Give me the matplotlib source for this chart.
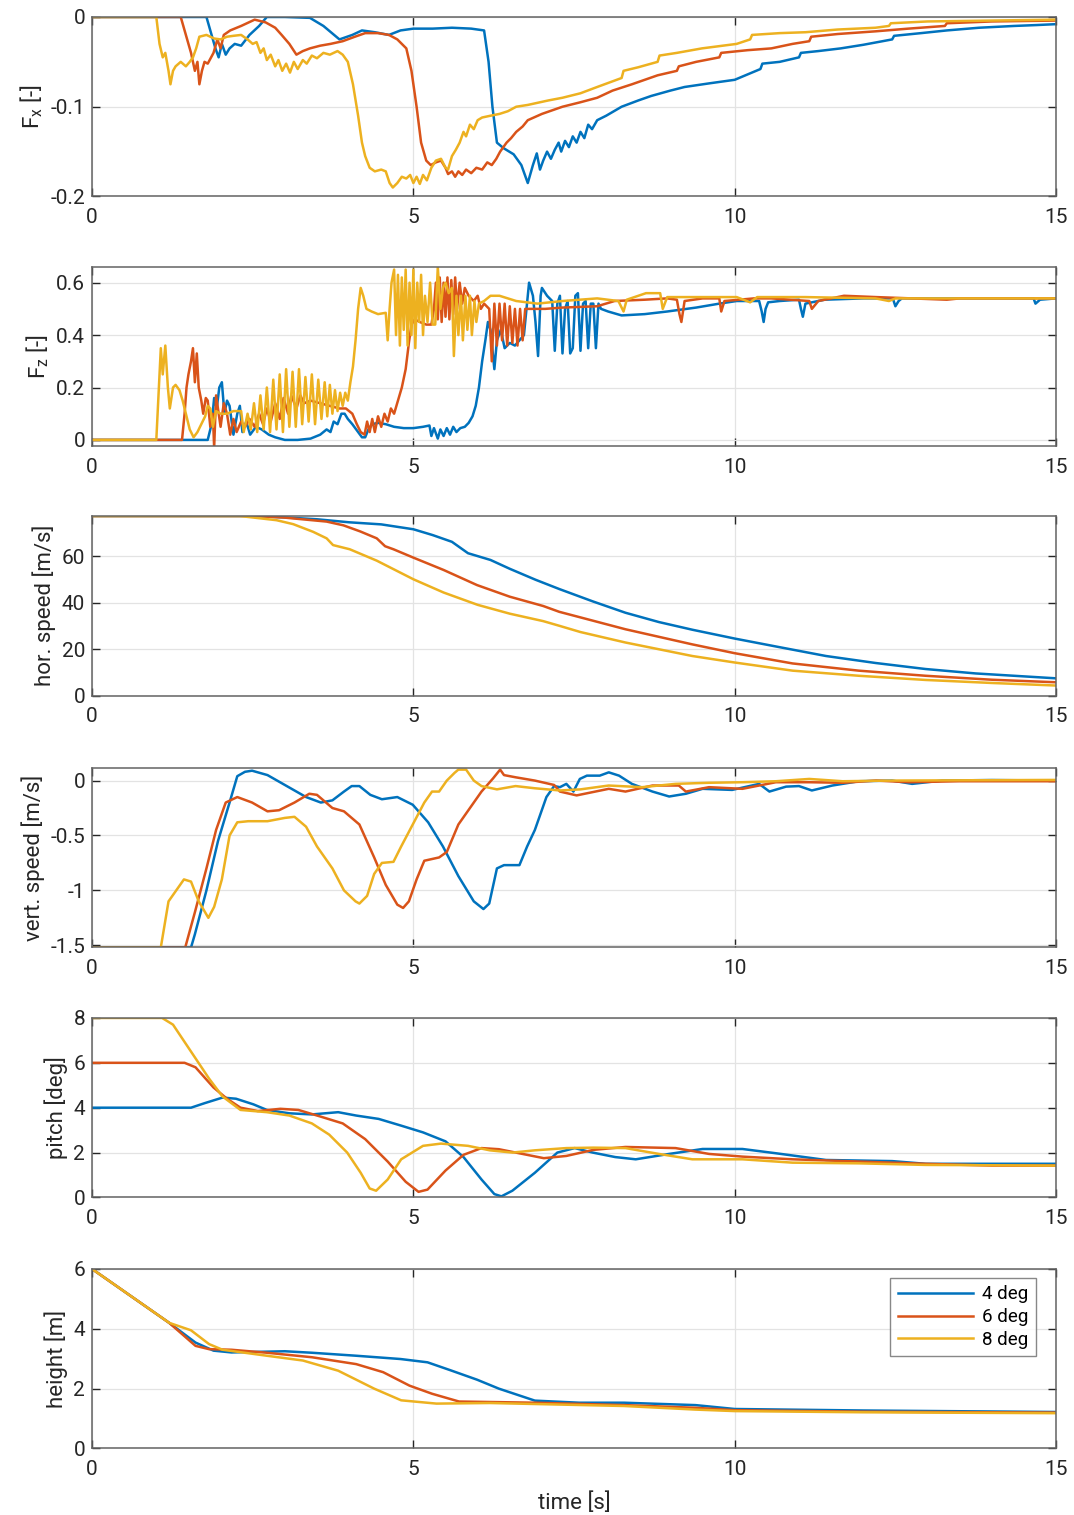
import numpy as np
import matplotlib
matplotlib.use("Agg")
import matplotlib.pyplot as plt

plt.rcParams['font.family'] = ['Roboto', 'DejaVu Sans']
plt.rcParams['mathtext.fontset'] = 'custom'
plt.rcParams['mathtext.rm'] = 'Roboto'
plt.rcParams['axes.unicode_minus'] = False

# series names and colours (MATLAB default order)
labels = ['4 deg', '6 deg', '8 deg']
colors = ['#0072BD', '#D95319', '#EDB120']

x_ticks = [0, 5, 10, 15]
x_ticklabels = ['0', '5', '10', '15']

# ---- panel 1: Fx [-]  (time, value)
fx_4deg = [(0, 0), (1.78, 0), (1.86, -0.02), (1.92, -0.035), (1.97, -0.045), (2.02, -0.03), (2.08, -0.042),
           (2.14, -0.035), (2.22, -0.03), (2.32, -0.032), (2.45, -0.02), (2.6, -0.01), (2.72, 0), (3.0, 0),
           (3.39, -0.001), (3.6, -0.01), (3.85, -0.025), (4.05, -0.02), (4.2, -0.015), (4.4, -0.017),
           (4.62, -0.02), (4.8, -0.015), (5.0, -0.013), (5.3, -0.013), (5.6, -0.012), (5.9, -0.013),
           (6.1, -0.015), (6.17, -0.05), (6.23, -0.1), (6.3, -0.14), (6.4, -0.146), (6.56, -0.153),
           (6.68, -0.165), (6.78, -0.185), (6.86, -0.165), (6.92, -0.152), (6.97, -0.17), (7.02, -0.16),
           (7.08, -0.15), (7.14, -0.158), (7.2, -0.148), (7.26, -0.14), (7.3, -0.15), (7.36, -0.138),
           (7.42, -0.145), (7.48, -0.133), (7.54, -0.14), (7.6, -0.128), (7.66, -0.135), (7.72, -0.12),
           (7.78, -0.125), (7.86, -0.115), (8.0, -0.11), (8.24, -0.1), (8.5, -0.093), (8.7, -0.088),
           (9.0, -0.082), (9.22, -0.078), (9.6, -0.074), (10.0, -0.07), (10.4, -0.058), (10.43, -0.052),
           (10.7, -0.05), (11.0, -0.045), (11.03, -0.04), (11.3, -0.038), (11.65, -0.035), (12.0, -0.031),
           (12.45, -0.025), (12.48, -0.021), (12.9, -0.018), (13.3, -0.015), (13.8, -0.012), (14.35, -0.01),
           (14.7, -0.009), (15.0, -0.008)]
fx_6deg = [(0, 0), (1.38, 0), (1.46, -0.02), (1.54, -0.04), (1.6, -0.06), (1.64, -0.05), (1.67, -0.075),
           (1.71, -0.06), (1.75, -0.05), (1.8, -0.052), (1.89, -0.04), (1.95, -0.025), (2.0, -0.035),
           (2.05, -0.02), (2.15, -0.015), (2.32, -0.01), (2.53, -0.003), (2.7, -0.006), (2.85, -0.012),
           (2.95, -0.02), (3.07, -0.03), (3.18, -0.042), (3.28, -0.038), (3.39, -0.035), (3.55, -0.032),
           (3.71, -0.03), (3.9, -0.027), (4.09, -0.022), (4.25, -0.018), (4.45, -0.018), (4.62, -0.02),
           (4.75, -0.025), (4.89, -0.035), (4.97, -0.06), (5.05, -0.1), (5.12, -0.14), (5.2, -0.16),
           (5.27, -0.165), (5.35, -0.162), (5.43, -0.16), (5.5, -0.168), (5.54, -0.175), (5.6, -0.172),
           (5.65, -0.178), (5.7, -0.172), (5.76, -0.176), (5.82, -0.17), (5.9, -0.174), (5.98, -0.168),
           (6.07, -0.17), (6.15, -0.162), (6.22, -0.165), (6.29, -0.158), (6.35, -0.15), (6.45, -0.14),
           (6.52, -0.135), (6.6, -0.128), (6.7, -0.122), (6.78, -0.115), (7.0, -0.108), (7.32, -0.1),
           (7.6, -0.095), (7.86, -0.09), (8.1, -0.082), (8.4, -0.075), (8.8, -0.065), (9.1, -0.06),
           (9.13, -0.055), (9.4, -0.05), (9.76, -0.045), (9.79, -0.04), (10.2, -0.037), (10.57, -0.035),
           (10.9, -0.03), (11.16, -0.027), (11.19, -0.022), (11.6, -0.019), (12.19, -0.016), (12.7, -0.013),
           (13.27, -0.01), (13.3, -0.007), (14.0, -0.005), (15.0, -0.004)]
fx_8deg = [(0, 0), (1.0, 0), (1.05, -0.03), (1.1, -0.045), (1.14, -0.04), (1.19, -0.06), (1.22, -0.075),
           (1.26, -0.06), (1.3, -0.055), (1.38, -0.05), (1.46, -0.055), (1.52, -0.05), (1.57, -0.045),
           (1.62, -0.035), (1.67, -0.022), (1.78, -0.02), (1.9, -0.024), (2.0, -0.025), (2.1, -0.022),
           (2.2, -0.021), (2.32, -0.02), (2.42, -0.025), (2.5, -0.03), (2.56, -0.028), (2.62, -0.04),
           (2.67, -0.035), (2.72, -0.048), (2.78, -0.042), (2.85, -0.055), (2.9, -0.048), (2.96, -0.06),
           (3.02, -0.052), (3.08, -0.062), (3.14, -0.05), (3.2, -0.058), (3.28, -0.048), (3.34, -0.052),
           (3.42, -0.043), (3.5, -0.046), (3.6, -0.04), (3.7, -0.042), (3.82, -0.038), (3.9, -0.042),
           (3.98, -0.05), (4.06, -0.075), (4.14, -0.11), (4.2, -0.14), (4.25, -0.155), (4.32, -0.168),
           (4.4, -0.172), (4.5, -0.17), (4.57, -0.172), (4.63, -0.185), (4.68, -0.19), (4.75, -0.185),
           (4.82, -0.178), (4.89, -0.18), (4.95, -0.176), (5.0, -0.185), (5.05, -0.178), (5.1, -0.186),
           (5.15, -0.176), (5.21, -0.182), (5.28, -0.168), (5.35, -0.16), (5.43, -0.158), (5.5, -0.168),
           (5.54, -0.17), (5.6, -0.155), (5.66, -0.148), (5.72, -0.14), (5.78, -0.128), (5.82, -0.133),
           (5.88, -0.12), (5.94, -0.125), (6.0, -0.115), (6.07, -0.112), (6.2, -0.11), (6.34, -0.108),
           (6.47, -0.105), (6.6, -0.1), (6.78, -0.098), (7.1, -0.093), (7.32, -0.09), (7.6, -0.085),
           (7.86, -0.078), (8.24, -0.068), (8.27, -0.06), (8.5, -0.056), (8.8, -0.05), (8.83, -0.043),
           (9.1, -0.04), (9.49, -0.035), (10.03, -0.03), (10.24, -0.025), (10.27, -0.02), (10.7, -0.018),
           (11.1, -0.017), (11.6, -0.014), (12.19, -0.012), (12.4, -0.01), (12.43, -0.007), (13.0, -0.005),
           (14.0, -0.004), (15.0, -0.003)]

# ---- panel 2: Fz [-]
fz_4deg = [(0, 0), (1.8, 0), (1.86, 0.06), (1.9, 0.16), (1.94, 0.12), (1.98, 0.2), (2.02, 0.22), (2.06, 0.1),
           (2.1, 0.15), (2.14, 0.13), (2.2, 0.02), (2.26, 0.1), (2.3, 0.13), (2.34, 0.03), (2.4, 0.07),
           (2.46, 0.02), (2.55, 0.05), (2.64, 0.04), (2.75, 0.02), (2.85, 0.01), (3.0, 0.0), (3.2, 0.0),
           (3.4, 0.005), (3.55, 0.02), (3.65, 0.04), (3.71, 0.03), (3.76, 0.07), (3.82, 0.06), (3.88, 0.1),
           (3.93, 0.1), (3.98, 0.08), (4.05, 0.06), (4.14, 0.03), (4.2, 0.01), (4.25, 0.01), (4.3, 0.04),
           (4.36, 0.06), (4.45, 0.065), (4.57, 0.06), (4.7, 0.05), (4.85, 0.045), (5.0, 0.045), (5.15, 0.05),
           (5.25, 0.055), (5.28, 0.015), (5.32, 0.045), (5.38, 0.005), (5.42, 0.04), (5.47, 0.015),
           (5.52, 0.045), (5.57, 0.02), (5.62, 0.05), (5.67, 0.03), (5.73, 0.045), (5.8, 0.05), (5.86, 0.065),
           (5.92, 0.09), (5.97, 0.13), (6.02, 0.2), (6.07, 0.3), (6.12, 0.38), (6.16, 0.45), (6.2, 0.42),
           (6.26, 0.27), (6.3, 0.38), (6.36, 0.42), (6.42, 0.35), (6.5, 0.37), (6.58, 0.36), (6.65, 0.38),
           (6.72, 0.4), (6.76, 0.5), (6.8, 0.6), (6.86, 0.55), (6.9, 0.45), (6.94, 0.32), (6.98, 0.55),
           (7.0, 0.58), (7.08, 0.55), (7.16, 0.53), (7.2, 0.34), (7.24, 0.52), (7.28, 0.55), (7.32, 0.33),
           (7.36, 0.5), (7.4, 0.53), (7.44, 0.33), (7.48, 0.35), (7.52, 0.55), (7.56, 0.56), (7.6, 0.34),
           (7.64, 0.52), (7.68, 0.53), (7.72, 0.35), (7.76, 0.52), (7.8, 0.52), (7.84, 0.35), (7.88, 0.52),
           (7.92, 0.5), (8.03, 0.49), (8.24, 0.475), (8.6, 0.48), (8.95, 0.49), (9.4, 0.505), (9.76, 0.52),
           (10.03, 0.53), (10.38, 0.53), (10.42, 0.49), (10.45, 0.45), (10.48, 0.5), (10.52, 0.525),
           (10.7, 0.53), (11.0, 0.535), (11.03, 0.5), (11.06, 0.47), (11.1, 0.52), (11.4, 0.535), (12.0, 0.54),
           (12.46, 0.54), (12.5, 0.51), (12.55, 0.53), (12.6, 0.54), (13.5, 0.54), (14.65, 0.54),
           (14.68, 0.52), (14.75, 0.535), (15.0, 0.54)]
fz_6deg = [(0, 0), (1.4, 0), (1.44, 0.1), (1.47, 0.2), (1.5, 0.25), (1.54, 0.3), (1.57, 0.35), (1.6, 0.22),
           (1.63, 0.33), (1.66, 0.2), (1.7, 0.15), (1.73, 0.1), (1.77, 0.16), (1.8, 0.15), (1.84, 0.05),
           (1.88, 0.1), (1.9, -0.03), (1.93, 0.17), (1.97, 0.1), (2.0, 0.05), (2.05, 0.14), (2.1, 0.1),
           (2.15, 0.02), (2.2, 0.08), (2.25, 0.03), (2.32, 0.07), (2.38, 0.05), (2.45, 0.08), (2.53, 0.05),
           (2.6, 0.1), (2.66, 0.06), (2.72, 0.12), (2.78, 0.07), (2.85, 0.14), (2.92, 0.08), (2.98, 0.16),
           (3.05, 0.1), (3.1, 0.17), (3.18, 0.12), (3.24, 0.17), (3.3, 0.14), (3.4, 0.15), (3.55, 0.14),
           (3.7, 0.13), (3.85, 0.12), (3.95, 0.12), (4.05, 0.1), (4.12, 0.06), (4.18, 0.03), (4.24, 0.02),
           (4.28, 0.07), (4.32, 0.03), (4.36, 0.08), (4.4, 0.03), (4.45, 0.09), (4.5, 0.05), (4.55, 0.1),
           (4.6, 0.07), (4.65, 0.12), (4.7, 0.1), (4.76, 0.15), (4.82, 0.2), (4.88, 0.27), (4.93, 0.37),
           (4.97, 0.44), (5.02, 0.46), (5.1, 0.45), (5.2, 0.44), (5.28, 0.44), (5.32, 0.5), (5.35, 0.6),
           (5.38, 0.46), (5.41, 0.62), (5.44, 0.45), (5.47, 0.6), (5.5, 0.47), (5.53, 0.62), (5.56, 0.46),
           (5.59, 0.61), (5.62, 0.48), (5.65, 0.62), (5.68, 0.5), (5.72, 0.6), (5.76, 0.52), (5.8, 0.58),
           (5.86, 0.55), (5.94, 0.53), (6.0, 0.55), (6.05, 0.5), (6.1, 0.52), (6.18, 0.5), (6.22, 0.3),
           (6.26, 0.52), (6.3, 0.36), (6.34, 0.52), (6.38, 0.38), (6.42, 0.52), (6.46, 0.36), (6.5, 0.51),
           (6.54, 0.37), (6.58, 0.5), (6.62, 0.36), (6.66, 0.5), (6.7, 0.38), (6.74, 0.5), (6.78, 0.5),
           (7.05, 0.5), (7.32, 0.505), (7.86, 0.51), (8.13, 0.53), (8.6, 0.535), (8.95, 0.54), (9.1, 0.535),
           (9.14, 0.48), (9.17, 0.45), (9.22, 0.53), (9.5, 0.54), (9.76, 0.54), (9.79, 0.49), (9.84, 0.53),
           (10.3, 0.54), (10.57, 0.54), (11.16, 0.53), (11.2, 0.5), (11.3, 0.53), (11.7, 0.55), (12.2, 0.545),
           (13.3, 0.535), (13.5, 0.54), (15.0, 0.54)]
fz_8deg = [(0, 0), (1.0, 0), (1.04, 0.2), (1.07, 0.35), (1.1, 0.25), (1.14, 0.36), (1.18, 0.2), (1.21, 0.12),
           (1.26, 0.2), (1.3, 0.21), (1.36, 0.19), (1.41, 0.15), (1.46, 0.1), (1.52, 0.04), (1.58, 0.01),
           (1.64, 0.03), (1.7, 0.06), (1.76, 0.09), (1.8, 0.13), (1.84, 0.12), (1.88, 0.05), (1.93, 0.11),
           (2.0, 0.1), (2.1, 0.1), (2.2, 0.11), (2.32, 0.11), (2.36, 0.03), (2.42, 0.1), (2.47, 0.04),
           (2.52, 0.14), (2.57, 0.03), (2.62, 0.17), (2.67, 0.04), (2.72, 0.2), (2.77, 0.03), (2.82, 0.23),
           (2.87, 0.04), (2.92, 0.25), (2.97, 0.03), (3.02, 0.27), (3.07, 0.05), (3.12, 0.26), (3.17, 0.05),
           (3.22, 0.27), (3.27, 0.06), (3.32, 0.24), (3.37, 0.07), (3.42, 0.25), (3.47, 0.06), (3.52, 0.23),
           (3.57, 0.08), (3.62, 0.22), (3.66, 0.09), (3.7, 0.21), (3.74, 0.1), (3.78, 0.19), (3.82, 0.11),
           (3.86, 0.18), (3.9, 0.13), (3.94, 0.18), (3.98, 0.15), (4.02, 0.22), (4.06, 0.28), (4.1, 0.38),
           (4.14, 0.5), (4.18, 0.58), (4.22, 0.55), (4.27, 0.5), (4.35, 0.49), (4.45, 0.48), (4.57, 0.485),
           (4.6, 0.38), (4.63, 0.5), (4.66, 0.6), (4.7, 0.65), (4.73, 0.4), (4.76, 0.63), (4.79, 0.36),
           (4.82, 0.62), (4.85, 0.42), (4.88, 0.65), (4.91, 0.36), (4.94, 0.6), (4.97, 0.4), (5.0, 0.65),
           (5.03, 0.35), (5.06, 0.6), (5.09, 0.45), (5.12, 0.63), (5.15, 0.4), (5.18, 0.55), (5.22, 0.45),
           (5.26, 0.6), (5.3, 0.44), (5.34, 0.44), (5.38, 0.66), (5.42, 0.5), (5.46, 0.58), (5.5, 0.6),
           (5.55, 0.56), (5.6, 0.58), (5.63, 0.32), (5.67, 0.55), (5.7, 0.4), (5.74, 0.55), (5.77, 0.38),
           (5.81, 0.55), (5.84, 0.42), (5.88, 0.55), (5.91, 0.4), (5.95, 0.53), (5.98, 0.45), (6.02, 0.52),
           (6.1, 0.53), (6.2, 0.55), (6.34, 0.55), (6.6, 0.53), (6.93, 0.52), (7.32, 0.53), (7.86, 0.54),
           (8.19, 0.53), (8.27, 0.49), (8.32, 0.535), (8.62, 0.56), (8.84, 0.56), (8.88, 0.5), (8.95, 0.545),
           (9.5, 0.545), (10.03, 0.545), (10.24, 0.525), (10.35, 0.545), (11.1, 0.545), (12.19, 0.54),
           (12.4, 0.53), (12.5, 0.54), (13.27, 0.54), (15.0, 0.54)]

# ---- panel 3: horizontal speed [m/s]
hs_4deg = [(0, 77.2), (2.5, 77.2), (3.0, 76.6), (3.5, 75.8), (4.0, 74.5), (4.5, 73.6), (5.0, 71.5), (5.3, 69.0),
           (5.6, 66.1), (5.85, 61.2), (6.2, 58.3), (6.5, 54.5), (6.9, 49.8), (7.27, 45.8), (7.79, 40.5),
           (8.3, 35.6), (8.82, 31.6), (9.34, 28.3), (10.0, 24.5), (10.64, 21.1), (11.42, 17.0), (12.19, 14.0),
           (12.97, 11.4), (13.75, 9.5), (15.0, 7.4)]
hs_6deg = [(0, 77.2), (2.5, 77.2), (3.0, 76.5), (3.65, 74.8), (3.91, 73.2), (4.17, 70.6), (4.43, 67.6),
           (4.56, 64.2), (4.69, 62.9), (5.0, 59.3), (5.47, 54.0), (5.99, 47.5), (6.5, 42.5), (7.02, 38.5),
           (7.27, 36.0), (7.6, 33.6), (8.3, 28.5), (9.34, 22.0), (10.0, 18.2), (10.9, 13.8), (11.93, 10.7),
           (12.97, 8.5), (14.0, 6.8), (15.0, 5.7)]
hs_8deg = [(0, 77.2), (2.3, 77.2), (2.87, 75.4), (3.13, 73.7), (3.44, 70.4), (3.65, 67.6), (3.75, 64.7),
           (4.01, 62.9), (4.43, 58.0), (5.0, 50.0), (5.47, 44.3), (6.0, 39.0), (6.5, 35.2), (7.02, 32.0),
           (7.27, 30.0), (7.6, 27.3), (8.3, 22.8), (9.34, 17.0), (10.0, 14.2), (10.9, 10.7), (11.93, 8.5),
           (12.97, 6.7), (14.0, 5.4), (15.0, 4.3)]

# ---- panel 4: vertical speed [m/s]
vs_4deg = [(0, -1.52), (1.54, -1.52), (1.6, -1.4), (1.78, -1.0), (1.96, -0.55), (2.14, -0.2), (2.26, 0.04),
           (2.38, 0.08), (2.49, 0.09), (2.73, 0.05), (3.03, -0.05), (3.33, -0.15), (3.56, -0.2), (3.74, -0.18),
           (3.92, -0.1), (4.04, -0.05), (4.16, -0.05), (4.33, -0.13), (4.51, -0.17), (4.75, -0.15),
           (4.99, -0.22), (5.23, -0.38), (5.46, -0.6), (5.7, -0.87), (5.94, -1.1), (6.09, -1.17),
           (6.18, -1.12), (6.3, -0.8), (6.41, -0.77), (6.65, -0.77), (6.77, -0.6), (6.89, -0.45),
           (7.07, -0.15), (7.19, -0.05), (7.28, -0.06), (7.38, -0.03), (7.49, -0.1), (7.59, 0.015),
           (7.7, 0.045), (7.9, 0.045), (8.04, 0.075), (8.2, 0.045), (8.4, -0.03), (8.72, -0.1), (8.98, -0.145),
           (9.24, -0.12), (9.5, -0.075), (9.96, -0.085), (10.38, -0.03), (10.54, -0.1), (10.8, -0.055),
           (11.0, -0.05), (11.2, -0.09), (11.52, -0.045), (11.93, -0.006), (12.45, 0.0), (12.76, -0.03),
           (13.23, 0.0), (14.0, 0.005), (15.0, 0.0)]
vs_6deg = [(0, -1.52), (1.45, -1.52), (1.6, -1.2), (1.78, -0.8), (1.93, -0.45), (2.08, -0.2), (2.26, -0.15),
           (2.49, -0.2), (2.73, -0.28), (2.91, -0.27), (3.15, -0.2), (3.38, -0.12), (3.5, -0.13),
           (3.74, -0.25), (3.92, -0.28), (4.16, -0.4), (4.39, -0.7), (4.57, -0.95), (4.75, -1.13),
           (4.84, -1.16), (4.93, -1.1), (5.05, -0.9), (5.17, -0.73), (5.4, -0.7), (5.52, -0.65), (5.7, -0.4),
           (5.88, -0.25), (6.06, -0.1), (6.24, 0.02), (6.35, 0.1), (6.41, 0.05), (6.59, 0.03), (6.89, 0.0),
           (7.19, -0.04), (7.28, -0.1), (7.54, -0.135), (8.04, -0.075), (8.3, -0.1), (8.72, -0.045),
           (9.13, -0.045), (9.24, -0.1), (9.6, -0.06), (10.12, -0.075), (10.64, -0.015), (11.16, -0.015),
           (11.68, -0.02), (12.2, 0.0), (12.71, -0.015), (13.49, -0.006), (15.0, -0.006)]
vs_8deg = [(0, -1.52), (1.07, -1.52), (1.19, -1.1), (1.31, -1.0), (1.43, -0.9), (1.54, -0.92), (1.66, -1.1),
           (1.81, -1.25), (1.9, -1.15), (2.02, -0.9), (2.14, -0.5), (2.26, -0.38), (2.43, -0.37),
           (2.73, -0.37), (3.0, -0.34), (3.15, -0.33), (3.33, -0.42), (3.5, -0.6), (3.74, -0.8), (3.92, -1.0),
           (4.1, -1.1), (4.16, -1.12), (4.28, -1.05), (4.39, -0.85), (4.51, -0.75), (4.69, -0.74),
           (4.81, -0.6), (4.99, -0.4), (5.17, -0.2), (5.29, -0.1), (5.4, -0.1), (5.52, 0.0), (5.64, 0.07),
           (5.7, 0.1), (5.82, 0.1), (5.94, 0.0), (6.06, -0.05), (6.3, -0.08), (6.59, -0.05), (6.89, -0.07),
           (7.28, -0.09), (7.6, -0.08), (8.04, -0.045), (8.56, -0.06), (9.08, -0.03), (9.6, -0.02),
           (10.12, -0.015), (10.64, -0.006), (11.16, 0.015), (11.68, -0.006), (12.45, 0.0), (15.0, 0.006)]

# ---- panel 5: pitch [deg]
pitch_4deg = [(0, 4), (1.54, 4), (1.75, 4.2), (2.03, 4.45), (2.24, 4.4), (2.51, 4.15), (2.72, 3.9), (3.07, 3.75),
              (3.42, 3.7), (3.83, 3.8), (4.11, 3.65), (4.46, 3.5), (4.81, 3.2), (5.15, 2.9), (5.5, 2.5),
              (5.78, 1.8), (6.06, 0.8), (6.26, 0.15), (6.37, 0.05), (6.54, 0.3), (6.89, 1.1), (7.24, 2.0),
              (7.51, 2.2), (7.79, 2.0), (8.14, 1.8), (8.46, 1.7), (8.98, 1.94), (9.5, 2.16), (10.12, 2.16),
              (10.64, 1.97), (11.42, 1.67), (12.45, 1.62), (12.97, 1.5), (15.0, 1.5)]
pitch_6deg = [(0, 6), (1.44, 6), (1.61, 5.8), (1.89, 4.9), (2.1, 4.4), (2.31, 4.0), (2.58, 3.85), (2.93, 3.95),
              (3.21, 3.9), (3.56, 3.6), (3.9, 3.3), (4.25, 2.6), (4.6, 1.6), (4.88, 0.7), (5.08, 0.25),
              (5.22, 0.35), (5.5, 1.2), (5.78, 1.9), (6.06, 2.2), (6.33, 2.15), (6.68, 1.95), (7.03, 1.75),
              (7.38, 1.85), (7.8, 2.12), (8.3, 2.25), (9.08, 2.2), (9.6, 1.94), (10.12, 1.82), (10.9, 1.7),
              (11.93, 1.6), (12.97, 1.5), (14.0, 1.42), (15.0, 1.42)]
pitch_8deg = [(0, 8), (1.09, 8), (1.26, 7.7), (1.54, 6.5), (1.82, 5.3), (2.03, 4.5), (2.31, 3.9), (2.72, 3.8),
              (3.07, 3.65), (3.42, 3.3), (3.69, 2.8), (3.97, 2.0), (4.18, 1.1), (4.32, 0.4), (4.42, 0.3),
              (4.6, 0.8), (4.81, 1.7), (5.15, 2.3), (5.43, 2.4), (5.85, 2.3), (6.19, 2.1), (6.54, 2.0),
              (6.89, 2.1), (7.38, 2.2), (7.8, 2.22), (8.3, 2.2), (8.82, 1.94), (9.34, 1.7), (10.12, 1.7),
              (10.9, 1.55), (11.93, 1.52), (12.97, 1.45), (15.0, 1.42)]

# ---- panel 6: height [m]
h_4deg = [(0, 6), (1.2, 4.2), (1.61, 3.54), (1.89, 3.27), (2.17, 3.21), (3.0, 3.25), (3.42, 3.2), (4.11, 3.1),
          (4.8, 2.99), (5.22, 2.88), (5.57, 2.62), (5.99, 2.3), (6.33, 2.0), (6.68, 1.75), (6.89, 1.6),
          (7.58, 1.53), (8.28, 1.53), (9.39, 1.45), (10.0, 1.32), (12.0, 1.27), (15.0, 1.22)]
h_6deg = [(0, 6), (1.2, 4.2), (1.61, 3.43), (1.82, 3.32), (2.17, 3.3), (2.72, 3.2), (3.42, 3.05), (4.11, 2.82),
          (4.53, 2.55), (4.94, 2.1), (5.29, 1.83), (5.71, 1.57), (6.89, 1.53), (8.28, 1.45), (9.39, 1.36),
          (10.0, 1.28), (12.0, 1.23), (15.0, 1.2)]
h_8deg = [(0, 6), (1.2, 4.2), (1.54, 3.95), (1.82, 3.49), (2.03, 3.3), (2.72, 3.1), (3.28, 2.94), (3.83, 2.6),
          (4.39, 2.0), (4.81, 1.61), (5.36, 1.5), (6.19, 1.52), (8.28, 1.42), (9.39, 1.3), (10.0, 1.25),
          (12.0, 1.21), (15.0, 1.18)]

panels = [
    ([fx_4deg, fx_6deg, fx_8deg], 'F$_\\mathregular{x}$ [-]', (-0.2, 0.0), [-0.2, -0.1, 0], ['-0.2', '-0.1', '0']),
    ([fz_4deg, fz_6deg, fz_8deg], 'F$_\\mathregular{z}$ [-]', (-0.025, 0.66), [0, 0.2, 0.4, 0.6], ['0', '0.2', '0.4', '0.6']),
    ([hs_4deg, hs_6deg, hs_8deg], 'hor. speed [m/s]', (0, 77.2), [0, 20, 40, 60], ['0', '20', '40', '60']),
    ([vs_4deg, vs_6deg, vs_8deg], 'vert. speed [m/s]', (-1.52, 0.115), [-1.5, -1, -0.5, 0], ['-1.5', '-1', '-0.5', '0']),
    ([pitch_4deg, pitch_6deg, pitch_8deg], 'pitch [deg]', (0, 8), [0, 2, 4, 6, 8], ['0', '2', '4', '6', '8']),
    ([h_4deg, h_6deg, h_8deg], 'height [m]', (0, 6), [0, 2, 4, 6], ['0', '2', '4', '6']),
]

# axes boxes in figure fractions (top -> bottom)
tops = [0.9888, 0.8238, 0.6594, 0.4931, 0.3281, 0.1624]
ax_h = 0.1185
left, width = 0.0857, 0.8976

fig = plt.figure(figsize=(10.74, 15.15), dpi=100)
axes = []
for i, (series, ylab, ylim, yt, ytl) in enumerate(panels):
    ax = fig.add_axes([left, tops[i] - ax_h, width, ax_h])
    for s, c, lab in zip(series, colors, labels):
        arr = np.array(s)
        ax.plot(arr[:, 0], arr[:, 1], color=c, lw=1.8, label=lab)
    ax.set_xlim(0, 15)
    ax.set_ylim(*ylim)
    ax.set_xticks(x_ticks, x_ticklabels)
    ax.set_yticks(yt, ytl)
    ax.set_ylabel(ylab, fontsize=16, color='#262626', labelpad=4)
    ax.grid(True, color='#e3e3e3', lw=0.9)
    ax.set_axisbelow(True)
    ax.tick_params(direction='in', length=6, width=1, colors='#262626', labelsize=15,
                   top=True, right=True)
    ax.tick_params(axis='x', pad=8)
    ax.tick_params(axis='y', pad=5)
    for sp in ax.spines.values():
        sp.set_color('#636363')
        sp.set_linewidth(1.1)
    axes.append(ax)

axes[-1].set_xlabel('time [s]', fontsize=16, color='#262626', labelpad=10)
leg = axes[-1].legend(loc='upper right', bbox_to_anchor=(1 - 20 / 964, 1 - 9 / 180), borderaxespad=0,
                      fontsize=13.5, handlelength=4.0, frameon=True, fancybox=False,
                      edgecolor='#6b6b6b', labelspacing=0.25, handletextpad=0.5, borderpad=0.4)
leg.get_frame().set_linewidth(1.0)

fig.savefig('out.png', dpi=100)
